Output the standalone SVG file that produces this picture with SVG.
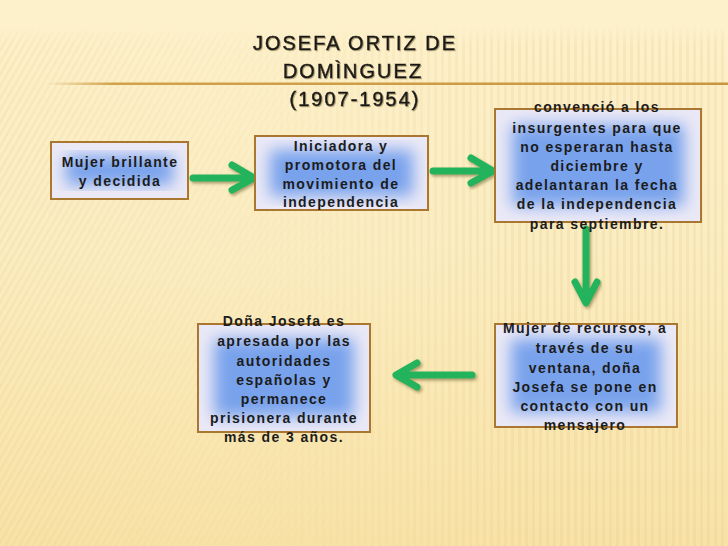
<svg xmlns="http://www.w3.org/2000/svg" width="728" height="546" viewBox="0 0 728 546">
  <defs>
    <linearGradient id="bg" x1="0" y1="0" x2="0" y2="1">
      <stop offset="0" stop-color="#fdf1cc"/>
      <stop offset="0.5" stop-color="#fbecc0"/>
      <stop offset="1" stop-color="#f8e2a6"/>
    </linearGradient>
    <pattern id="diag" width="6" height="6" patternUnits="userSpaceOnUse" patternTransform="rotate(30)">
      <rect width="2.5" height="6" fill="#e6cb85"/>
    </pattern>
    <pattern id="vert" width="7" height="8" patternUnits="userSpaceOnUse">
      <rect width="3" height="8" fill="#e6cb85"/>
    </pattern>
    <linearGradient id="fadeL" x1="0" y1="0" x2="1" y2="0">
      <stop offset="0" stop-color="#fff" stop-opacity="1"/>
      <stop offset="0.55" stop-color="#fff" stop-opacity="0"/>
    </linearGradient>
    <linearGradient id="fadeR" x1="0" y1="0" x2="1" y2="0">
      <stop offset="0.3" stop-color="#fff" stop-opacity="0"/>
      <stop offset="0.7" stop-color="#fff" stop-opacity="1"/>
    </linearGradient>
    <linearGradient id="fadeT" x1="0" y1="0" x2="0" y2="1">
      <stop offset="0" stop-color="#fdf1cc" stop-opacity="1"/>
      <stop offset="1" stop-color="#fdf1cc" stop-opacity="0"/>
    </linearGradient>
    <mask id="maskL"><rect x="0" y="25" width="728" height="521" fill="url(#fadeL)"/></mask>
    <mask id="maskR"><rect x="0" y="25" width="728" height="521" fill="url(#fadeR)"/></mask>
    <linearGradient id="rule" x1="0" y1="0" x2="1" y2="0">
      <stop offset="0" stop-color="#d2a24a" stop-opacity="0"/>
      <stop offset="0.1" stop-color="#d2a24a" stop-opacity="1"/>
      <stop offset="1" stop-color="#c8963e"/>
    </linearGradient>
    <filter id="glow" x="-20%" y="-20%" width="140%" height="140%">
      <feGaussianBlur stdDeviation="8"/>
    </filter>
    <filter id="shadow" x="-20%" y="-30%" width="140%" height="160%">
      <feDropShadow dx="1.5" dy="2" stdDeviation="1.5" flood-color="#6b5a2a" flood-opacity="0.55"/>
    </filter>
    <filter id="tshadow" x="-5%" y="-20%" width="110%" height="140%">
      <feDropShadow dx="1" dy="1" stdDeviation="0.6" flood-color="#8a7a50" flood-opacity="0.6"/>
    </filter>
    <clipPath id="c1"><rect x="51" y="142" width="137" height="57"/></clipPath>
    <clipPath id="c2"><rect x="255" y="136" width="173" height="74"/></clipPath>
    <clipPath id="c3"><rect x="495" y="109" width="206" height="113"/></clipPath>
    <clipPath id="c4"><rect x="495" y="324" width="182" height="103"/></clipPath>
    <clipPath id="c5"><rect x="198" y="324" width="172" height="108"/></clipPath>
  </defs>
  <style>
    .box { fill: #ebe9f6; }
    .blue { fill: #78a2ec; filter: url(#glow); }
    .frame { fill: none; stroke: #a9772f; stroke-width: 2; }
    .t { font-family: "Liberation Sans", Arial, sans-serif; font-weight: bold; font-size: 14px; letter-spacing: 1.4px; fill: #1c1c1c; text-anchor: middle; }
    .title { font-family: "Liberation Sans", Arial, sans-serif; font-size: 20px; letter-spacing: 2px; fill: #1a1a1a; stroke: #1a1a1a; stroke-width: 0.5; text-anchor: middle; }
    .arrow { fill: none; stroke: #21b35b; stroke-width: 7; stroke-linecap: round; stroke-linejoin: round; filter: url(#shadow); }
  </style>

  <!-- background -->
  <rect width="728" height="546" fill="url(#bg)"/>
  <rect x="0" y="25" width="728" height="521" fill="url(#diag)" opacity="0.22" mask="url(#maskL)"/>
  <rect x="0" y="25" width="728" height="521" fill="url(#vert)" opacity="0.22" mask="url(#maskR)"/>
  <rect x="0" y="0" width="728" height="25" fill="#fdf1cc"/>
  <rect x="0" y="25" width="728" height="20" fill="url(#fadeT)"/>
  <rect x="45" y="82.5" width="683" height="2.5" fill="url(#rule)"/>

  <!-- title -->
  <g id="title" filter="url(#tshadow)">
    <text class="title" x="355" y="50">JOSEFA ORTIZ DE</text>
    <text class="title" x="353" y="78">DOMÌNGUEZ</text>
    <text class="title" x="355" y="106">(1907-1954)</text>
  </g>

  <!-- connectors -->
  <g id="connectors">
    <path class="arrow" d="M193 178 H252 M232 165 L254 178 L232 190"/>
    <path class="arrow" d="M433 171 H491 M471 158 L493 171 L471 183"/>
    <path class="arrow" d="M586 229 V300 M575 282 L586 303 L597 282"/>
    <path class="arrow" d="M472 375 H398 M417 363 L396 375 L417 387"/>
  </g>

  <!-- nodes -->
  <g id="node1">
    <rect class="box" x="51" y="142" width="137" height="57"/>
    <g clip-path="url(#c1)"><rect class="blue" x="66" y="156" width="107" height="29"/></g>
    <rect class="frame" x="51" y="142" width="137" height="57"/>
    <text class="t" x="120" y="167">Mujer brillante</text>
    <text class="t" x="120" y="186">y decidida</text>
  </g>

  <g id="node2">
    <rect class="box" x="255" y="136" width="173" height="74"/>
    <g clip-path="url(#c2)"><rect class="blue" x="270" y="150" width="143" height="46"/></g>
    <rect class="frame" x="255" y="136" width="173" height="74"/>
    <text class="t" x="341" y="151">Iniciadora y</text>
    <text class="t" x="341" y="170">promotora del</text>
    <text class="t" x="341" y="189">movimiento de</text>
    <text class="t" x="341" y="207">independencia</text>
  </g>

  <g id="node3">
    <rect class="box" x="495" y="109" width="206" height="113"/>
    <g clip-path="url(#c3)"><rect class="blue" x="512" y="125" width="172" height="81"/></g>
    <rect class="frame" x="495" y="109" width="206" height="113"/>
    <text class="t" x="597" y="112">convenció a los</text>
    <text class="t" x="597" y="133">insurgentes para que</text>
    <text class="t" x="597" y="152">no esperaran hasta</text>
    <text class="t" x="597" y="171">diciembre y</text>
    <text class="t" x="597" y="190">adelantaran la fecha</text>
    <text class="t" x="597" y="209">de la independencia</text>
    <text class="t" x="597" y="229">para septiembre.</text>
  </g>

  <g id="node4">
    <rect class="box" x="495" y="324" width="182" height="103"/>
    <g clip-path="url(#c4)"><rect class="blue" x="511" y="339" width="150" height="73"/></g>
    <rect class="frame" x="495" y="324" width="182" height="103"/>
    <text class="t" x="585" y="333">Mujer de recursos, a</text>
    <text class="t" x="585" y="353">través de su</text>
    <text class="t" x="585" y="373">ventana, doña</text>
    <text class="t" x="585" y="392">Josefa se pone en</text>
    <text class="t" x="585" y="411">contacto con un</text>
    <text class="t" x="585" y="430">mensajero</text>
  </g>

  <g id="node5">
    <rect class="box" x="198" y="324" width="172" height="108"/>
    <g clip-path="url(#c5)"><rect class="blue" x="214" y="339" width="140" height="78"/></g>
    <rect class="frame" x="198" y="324" width="172" height="108"/>
    <text class="t" x="284" y="326">Doña Josefa es</text>
    <text class="t" x="284" y="346">apresada por las</text>
    <text class="t" x="284" y="366">autoridades</text>
    <text class="t" x="284" y="385">españolas y</text>
    <text class="t" x="284" y="404">permanece</text>
    <text class="t" x="284" y="423">prisionera durante</text>
    <text class="t" x="284" y="442">más de 3 años.</text>
  </g>
</svg>
